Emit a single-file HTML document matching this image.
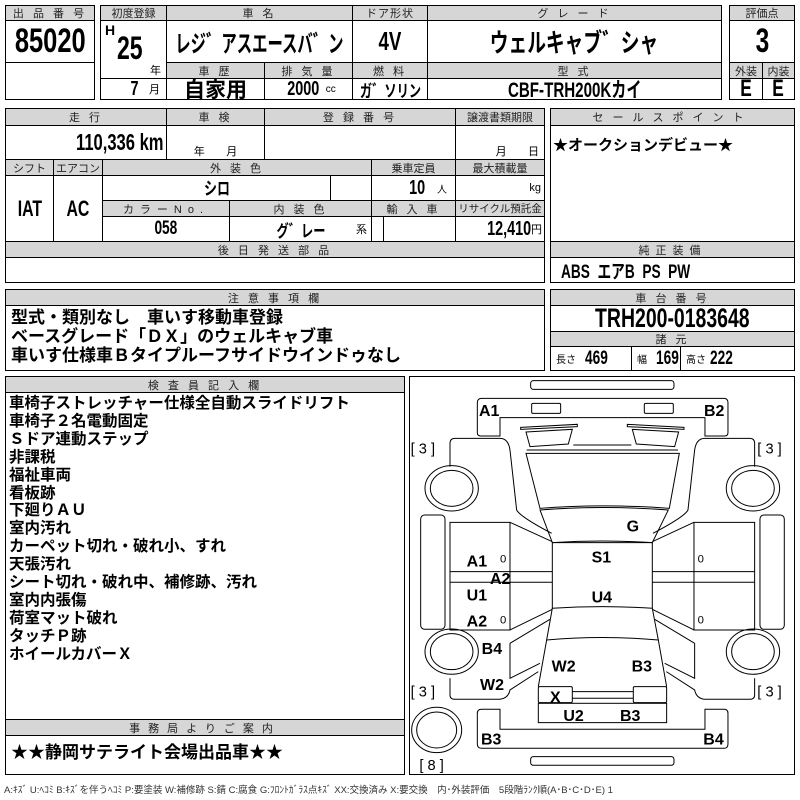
<!DOCTYPE html>
<html><head><meta charset="utf-8">
<style>
body{margin:0;width:800px;height:800px;background:#fff;position:relative;overflow:hidden;font-family:"Liberation Sans","Noto Sans CJK JP",sans-serif;color:#000}
.c{position:absolute;box-sizing:border-box;border:1px solid #000;display:flex;align-items:center;justify-content:center;white-space:nowrap;overflow:hidden;background:#fff}
.h{background:#d6d6d6;font-size:11px;letter-spacing:3px;color:#222}
.b{font-weight:bold}
.n{display:inline-block;transform:scaleX(0.72);font-weight:bold}
.t{position:absolute;white-space:nowrap;font-weight:bold}
</style></head><body>
<!-- block1 -->
<div class="c h" style="left:5px;top:5px;width:90px;height:16px">出 品 番 号</div>
<div class="c" style="left:5px;top:20px;width:90px;height:43px"><span class="n" style="font-size:34px;transform:scaleX(0.75)">85020</span></div>
<div class="c" style="left:5px;top:62px;width:90px;height:38px"></div>
<!-- block2 -->
<div class="c h" style="left:100px;top:5px;width:67px;height:16px;letter-spacing:0">初度登録</div>
<div class="c h" style="left:166px;top:5px;width:187px;height:16px">車 名</div>
<div class="c h" style="left:352px;top:5px;width:76px;height:16px;letter-spacing:1px">ドア形状</div>
<div class="c h" style="left:427px;top:5px;width:295px;height:16px">グ レ ー ド</div>
<div class="c" style="left:100px;top:20px;width:67px;height:59px"></div>
<div class="t" style="left:105px;top:22px;font-size:14px">H</div>
<div class="t" style="left:112px;top:30px;font-size:32px"><span class="n">25</span></div>
<div class="t" style="left:150px;top:62px;font-size:11px;font-weight:normal">年</div>
<div class="c" style="left:166px;top:20px;width:187px;height:43px"><span class="n" style="font-size:24px;transform:scaleX(0.64)">レジ゛アスエースバ゛ン</span></div>
<div class="c" style="left:352px;top:20px;width:76px;height:43px"><span class="n" style="font-size:26px">4V</span></div>
<div class="c" style="left:427px;top:20px;width:295px;height:43px"><span class="n" style="font-size:26px">ウェルキャブ゛シャ</span></div>
<div class="c h" style="left:166px;top:62px;width:99px;height:17px">車 歴</div>
<div class="c h" style="left:264px;top:62px;width:89px;height:17px">排 気 量</div>
<div class="c h" style="left:352px;top:62px;width:76px;height:17px">燃 料</div>
<div class="c h" style="left:427px;top:62px;width:295px;height:17px">型 式</div>
<div class="c" style="left:100px;top:78px;width:67px;height:22px;justify-content:flex-end;padding-right:6px"><span class="n" style="font-size:20px">7</span>&nbsp;&nbsp;<span style="font-size:11px">月</span></div>
<div class="c" style="left:166px;top:78px;width:99px;height:22px"><span style="font-size:21px;font-weight:bold">自家用</span></div>
<div class="c" style="left:264px;top:78px;width:89px;height:22px"><span class="n" style="font-size:20px">2000</span><span style="font-size:10px">cc</span></div>
<div class="c" style="left:352px;top:78px;width:76px;height:22px"><span class="n" style="font-size:17px">ガ゛ソリン</span></div>
<div class="c" style="left:427px;top:78px;width:295px;height:22px"><span class="n" style="font-size:21px">CBF-TRH200Kカイ</span></div>
<!-- score -->
<div class="c h" style="left:729px;top:5px;width:66px;height:16px;letter-spacing:0">評価点</div>
<div class="c" style="left:729px;top:20px;width:66px;height:43px"><span class="n" style="font-size:34px">3</span></div>
<div class="c h" style="left:729px;top:62px;width:34px;height:17px;letter-spacing:0">外装</div>
<div class="c h" style="left:762px;top:62px;width:33px;height:17px;letter-spacing:0">内装</div>
<div class="c" style="left:729px;top:78px;width:34px;height:22px"><span class="n" style="font-size:24px">E</span></div>
<div class="c" style="left:762px;top:78px;width:33px;height:22px"><span class="n" style="font-size:24px">E</span></div>
<!-- block3 -->
<div class="c h" style="left:5px;top:108px;width:162px;height:18px">走 行</div>
<div class="c h" style="left:166px;top:108px;width:99px;height:18px">車 検</div>
<div class="c h" style="left:264px;top:108px;width:192px;height:18px">登 録 番 号</div>
<div class="c h" style="left:455px;top:108px;width:90px;height:18px;letter-spacing:0">譲渡書類期限</div>
<div class="c" style="left:5px;top:125px;width:162px;height:35px;justify-content:flex-end;padding-right:2px"><span class="n" style="font-size:23px;transform-origin:right">110,336 km</span></div>
<div class="c" style="left:166px;top:125px;width:99px;height:35px;align-items:flex-end;font-size:11px">年&nbsp;&nbsp;&nbsp;&nbsp;&nbsp;&nbsp;&nbsp;月</div>
<div class="c" style="left:264px;top:125px;width:192px;height:35px"></div>
<div class="c" style="left:455px;top:125px;width:90px;height:35px;align-items:flex-end;justify-content:flex-end;padding-right:5px;font-size:11px">月&nbsp;&nbsp;&nbsp;&nbsp;&nbsp;&nbsp;&nbsp;日</div>
<div class="c h" style="left:5px;top:159px;width:49px;height:17px;letter-spacing:0">シフト</div>
<div class="c h" style="left:53px;top:159px;width:50px;height:17px;letter-spacing:0">エアコン</div>
<div class="c h" style="left:102px;top:159px;width:270px;height:17px">外 装 色</div>
<div class="c h" style="left:371px;top:159px;width:85px;height:17px;letter-spacing:0">乗車定員</div>
<div class="c h" style="left:455px;top:159px;width:90px;height:17px;letter-spacing:0">最大積載量</div>
<div class="c" style="left:5px;top:175px;width:49px;height:67px"><span class="n" style="font-size:22px">IAT</span></div>
<div class="c" style="left:53px;top:175px;width:50px;height:67px"><span class="n" style="font-size:22px">AC</span></div>
<div class="c" style="left:102px;top:175px;width:229px;height:26px"><span class="n" style="font-size:18px">シロ</span></div>
<div class="c" style="left:330px;top:175px;width:42px;height:26px"></div>
<div class="c" style="left:371px;top:175px;width:85px;height:26px;justify-content:flex-end;padding-right:8px"><span class="n" style="font-size:20px">10</span>&nbsp;&nbsp;<span style="font-size:10px">人</span></div>
<div class="c" style="left:455px;top:175px;width:90px;height:26px;justify-content:flex-end;padding-right:3px;font-size:11px">kg</div>
<div class="c h" style="left:102px;top:200px;width:128px;height:17px;letter-spacing:6px">カラーNo.</div>
<div class="c h" style="left:229px;top:200px;width:143px;height:17px">内 装 色</div>
<div class="c h" style="left:371px;top:200px;width:85px;height:17px">輸 入 車</div>
<div class="c h" style="left:455px;top:200px;width:90px;height:17px;letter-spacing:0;font-size:10.5px">リサイクル預託金</div>
<div class="c" style="left:102px;top:216px;width:128px;height:26px"><span class="n" style="font-size:19px">058</span></div>
<div class="c" style="left:229px;top:216px;width:143px;height:26px"><span class="n" style="font-size:17px">グ゛レー</span><span style="position:absolute;right:4px;bottom:4px;font-size:11px">系</span></div>
<div class="c" style="left:371px;top:216px;width:13px;height:26px"></div>
<div class="c" style="left:383px;top:216px;width:73px;height:26px"></div>
<div class="c" style="left:455px;top:216px;width:90px;height:26px;justify-content:flex-end;padding-right:2px"><span class="n" style="font-size:20px;transform-origin:right">12,410</span><span style="font-size:11px">円</span></div>
<div class="c h" style="left:5px;top:241px;width:540px;height:17px">後 日 発 送 部 品</div>
<div class="c" style="left:5px;top:257px;width:540px;height:26px"></div>
<!-- sales -->
<div class="c h" style="left:550px;top:108px;width:245px;height:18px;letter-spacing:9px">セールスポイント</div>
<div class="c" style="left:550px;top:125px;width:245px;height:117px;align-items:flex-start;justify-content:flex-start;padding:8px 0 0 2px;font-size:15px;font-weight:bold">★オークションデビュー★</div>
<div class="c h" style="left:550px;top:241px;width:245px;height:17px;letter-spacing:6px">純正装備</div>
<div class="c" style="left:550px;top:257px;width:245px;height:26px;justify-content:flex-start;padding-left:10px"><span class="n" style="font-size:19px;transform-origin:left">ABS&nbsp;&nbsp;エアB&nbsp;&nbsp;PS&nbsp;&nbsp;PW</span></div>
<!-- notes -->
<div class="c h" style="left:5px;top:289px;width:540px;height:17px">注 意 事 項 欄</div>
<div class="c" style="left:5px;top:305px;width:540px;height:66px;display:block;padding:2px 0 0 5px;font-size:17px;font-weight:bold;line-height:19px">型式・類別なし　車いす移動車登録<br>ベースグレード「ＤＸ」のウェルキャブ車<br>車いす仕様車Ｂタイプルーフサイドウインドゥなし</div>
<div class="c h" style="left:550px;top:289px;width:245px;height:17px">車 台 番 号</div>
<div class="c" style="left:550px;top:305px;width:245px;height:27px"><span class="n" style="font-size:27px">TRH200-0183648</span></div>
<div class="c h" style="left:550px;top:331px;width:245px;height:16px">諸 元</div>
<div class="c" style="left:550px;top:346px;width:82px;height:25px;justify-content:flex-start;padding-left:5px"><span style="font-size:10px">長さ</span>&nbsp;&nbsp;<span class="n" style="font-size:19px;transform-origin:left">469</span></div>
<div class="c" style="left:631px;top:346px;width:50px;height:25px;justify-content:flex-start;padding-left:5px"><span style="font-size:10px">幅</span>&nbsp;&nbsp;<span class="n" style="font-size:19px;transform-origin:left">169</span></div>
<div class="c" style="left:680px;top:346px;width:115px;height:25px;justify-content:flex-start;padding-left:5px"><span style="font-size:10px">高さ</span>&nbsp;<span class="n" style="font-size:19px;transform-origin:left">222</span></div>
<!-- inspector -->
<div class="c h" style="left:5px;top:376px;width:400px;height:17px">検 査 員 記 入 欄</div>
<div class="c" style="left:5px;top:392px;width:400px;height:328px;display:block;padding:2px 0 0 3px;font-size:15.5px;font-weight:bold;line-height:17.9px">車椅子ストレッチャー仕様全自動スライドリフト<br>車椅子２名電動固定<br>Ｓドア連動ステップ<br>非課税<br>福祉車両<br>看板跡<br>下廻りＡＵ<br>室内汚れ<br>カーペット切れ・破れ小、すれ<br>天張汚れ<br>シート切れ・破れ中、補修跡、汚れ<br>室内内張傷<br>荷室マット破れ<br>タッチＰ跡<br>ホイールカバーＸ</div>
<div class="c h" style="left:5px;top:719px;width:400px;height:17px;letter-spacing:8px">事務局よりご案内</div>
<div class="c" style="left:5px;top:735px;width:400px;height:40px;align-items:flex-start;justify-content:flex-start;padding:2px 0 0 5px;font-size:17px;font-weight:bold">★★静岡サテライト会場出品車★★</div>
<div class="c" style="left:409px;top:376px;width:386px;height:399px"></div>
<div class="t" style="left:4px;top:782px;font-size:9.5px;font-weight:normal;color:#333">A:ｷｽﾞ U:ﾍｺﾐ B:ｷｽﾞを伴うﾍｺﾐ P:要塗装 W:補修跡 S:錆 C:腐食 G:ﾌﾛﾝﾄｶﾞﾗｽ点ｷｽﾞ XX:交換済み X:要交換　内･外装評価　5段階ﾗﾝｸ順(A･B･C･D･E) 1</div>
<svg width="800" height="800" style="position:absolute;left:0;top:0">
<g transform="translate(400,370) scale(0.3333)" fill="none" stroke="#000" stroke-width="3">
<rect x="392" y="32" width="430" height="26" rx="8"/>
<path d="M232,98 Q232,85 245,85 L972,85 Q984,85 984,98 L984,188 Q984,198 974,198 L915,198 L915,143 L300,143 L300,198 L242,198 Q232,198 232,188 Z"/>
<rect x="395" y="100" width="87" height="30" rx="4"/><rect x="733" y="100" width="87" height="30" rx="4"/>
<path d="M362,172 L532,163 L532,170 L362,178 Z M682,163 L852,172 L852,178 L682,170 Z"/>
<path d="M378,186 L517,178 L505,222 L390,230 Z M697,178 L836,186 L824,230 L709,222 Z"/>
<path d="M520,225 L694,225"/>
<path d="M380,240 L834,240"/>
<path d="M378,250 L838,250 L808,415 Q607,400 420,415 Z"/>
<path d="M420,420 Q607,405 805,420 L757,518 Q607,508 457,518 Z"/>
<path d="M457,518 L757,518 L757,715 Q607,705 457,715 Z"/>
<path d="M457,715 L440,810 Q607,795 775,810 L757,715"/>
<path d="M440,810 L415,950 M775,810 L800,950"/>
<path d="M150,290 L150,220 Q150,205 165,205 L300,205 Q325,205 330,240 L350,420 Q360,440 455,490"/>
<path d="M1064,290 L1064,220 Q1064,205 1049,205 L914,205 Q889,205 884,240 L864,420 Q854,440 759,490"/>
<ellipse cx="155" cy="355" rx="80" ry="68"/><ellipse cx="155" cy="355" rx="64" ry="54"/>
<ellipse cx="1059" cy="355" rx="80" ry="68"/><ellipse cx="1059" cy="355" rx="64" ry="54"/>
<ellipse cx="155" cy="845" rx="80" ry="68"/><ellipse cx="155" cy="845" rx="64" ry="54"/>
<ellipse cx="1059" cy="845" rx="80" ry="68"/><ellipse cx="1059" cy="845" rx="64" ry="54"/>
<ellipse cx="110" cy="1080" rx="75" ry="68"/><ellipse cx="110" cy="1080" rx="60" ry="54"/>
<rect x="62" y="435" width="73" height="343" rx="12"/><rect x="1080" y="435" width="73" height="343" rx="12"/>
<path d="M150,457 L330,457 L330,780 L150,780 Z M150,605 L457,605 M150,637 L457,637 M330,457 L457,515 M330,780 L457,718"/>
<path d="M1064,457 L882,457 L882,780 L1064,780 Z M1064,605 L757,605 M1064,637 L757,637 M882,457 L757,515 M882,780 L757,718"/>
<path d="M330,820 L450,748 M330,820 L330,925 L420,880 M150,925 L150,975 Q150,988 165,988 L300,988 Q325,985 330,960 L415,905"/>
<path d="M884,820 L764,748 M884,820 L884,925 L794,880 M1064,925 L1064,975 Q1064,988 1049,988 L914,988 Q889,985 884,960 L799,905"/>
<rect x="415" y="950" width="102" height="48" rx="4"/><rect x="700" y="950" width="100" height="48" rx="4"/>
<path d="M517,965 L700,965 M517,985 L700,985"/>
<rect x="415" y="1000" width="385" height="58"/>
<path d="M300,1018 L300,1078 L915,1078 L915,1018 L972,1018 Q984,1018 984,1030 L984,1122 Q984,1135 972,1135 L245,1135 Q232,1135 232,1122 L232,1030 Q232,1018 245,1018 Z"/>
<rect x="392" y="1160" width="430" height="26" rx="8"/>
</g>
<g transform="translate(400,370) scale(0.3333)" font-family="Liberation Sans, sans-serif" font-weight="bold" font-size="48" fill="#000">
<text x="237" y="138">A1</text><text x="912" y="138">B2</text>
<text x="680" y="485">G</text><text x="575" y="578">S1</text><text x="575" y="698">U4</text>
<text x="200" y="590">A1</text><text x="270" y="642">A2</text><text x="200" y="692">U1</text><text x="200" y="770">A2</text>
<text x="245" y="852">B4</text><text x="455" y="904">W2</text><text x="695" y="904">B3</text>
<text x="240" y="960">W2</text><text x="450" y="997">X</text>
<text x="490" y="1053">U2</text><text x="660" y="1053">B3</text>
<text x="243" y="1123">B3</text><text x="910" y="1123">B4</text>
<g font-size="34" font-weight="normal"><text x="300" y="578">0</text><text x="300" y="760">0</text><text x="893" y="578">0</text><text x="893" y="760">0</text></g>
<g font-weight="normal" font-size="44"><text x="32" y="250">[ 3 ]</text><text x="1072" y="250">[ 3 ]</text><text x="32" y="980">[ 3 ]</text><text x="1072" y="980">[ 3 ]</text><text x="58" y="1200">[ 8 ]</text></g>
</g>
</svg>
</body></html>
